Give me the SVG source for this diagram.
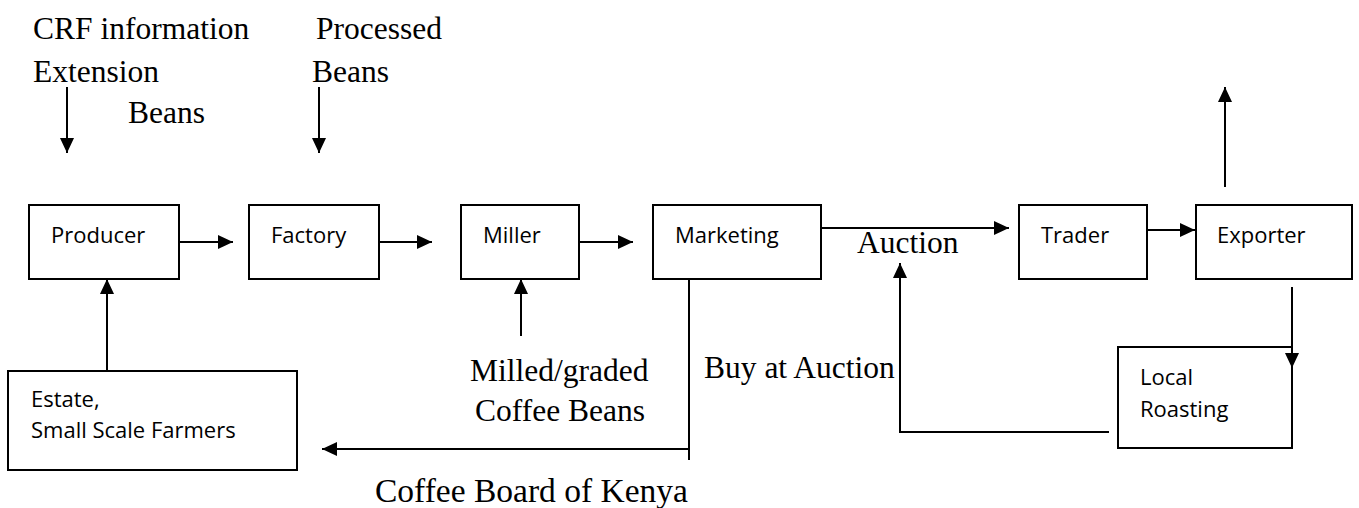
<svg xmlns="http://www.w3.org/2000/svg" width="1359" height="508" viewBox="0 0 1359 508">
<style>
.box{fill:#fff;stroke:#000;stroke-width:2}
.ln{fill:none;stroke:#000;stroke-width:2}
.arr{marker-end:url(#ah)}
.s{font-family:"Open Sans","Liberation Sans",sans-serif;font-size:22px;fill:#000}
.t{font-family:"Liberation Serif","Times New Roman",serif;font-size:31.5px;fill:#000}
</style>
<defs>
<marker id="ah" markerUnits="userSpaceOnUse" markerWidth="15" markerHeight="14" refX="15" refY="7" orient="auto">
<path d="M0,0 L15,7 L0,14 Z" fill="#000"/>
</marker>
</defs>
<rect width="1359" height="508" fill="#fff"/>
<g id="labels">
<text class="t" x="33" y="39">CRF information</text>
<text class="t" x="33" y="82">Extension</text>
<text class="t" x="128" y="123">Beans</text>
<text class="t" x="316" y="39">Processed</text>
<text class="t" x="312" y="82">Beans</text>
<text class="t" x="857" y="253">Auction</text>
<text class="t" x="470" y="381">Milled/graded</text>
<text class="t" x="475" y="421">Coffee Beans</text>
<text class="t" x="704" y="378">Buy at Auction</text>
<text class="t" x="375" y="502" style="font-size:33.5px">Coffee Board of Kenya</text>
</g>
<g id="producer"><rect class="box" x="29" y="205" width="150" height="74"/><text class="s" x="51" y="243">Producer</text></g>
<g id="factory"><rect class="box" x="249" y="205" width="130" height="74"/><text class="s" x="271" y="243">Factory</text></g>
<g id="miller"><rect class="box" x="461" y="205" width="118" height="74"/><text class="s" x="483" y="243">Miller</text></g>
<g id="marketing"><rect class="box" x="653" y="205" width="168" height="74"/><text class="s" x="675" y="243">Marketing</text></g>
<g id="trader"><rect class="box" x="1019" y="205" width="128" height="74"/><text class="s" x="1041" y="243">Trader</text></g>
<g id="exporter"><rect class="box" x="1196" y="205" width="156" height="74"/><text class="s" x="1217" y="243">Exporter</text></g>
<g id="estate"><rect class="box" x="8" y="371" width="289" height="99"/><text class="s" x="31" y="407">Estate,</text><text class="s" x="31" y="438">Small Scale Farmers</text></g>
<g id="roasting"><rect class="box" x="1118" y="347" width="174" height="101"/><text class="s" x="1140" y="385">Local</text><text class="s" x="1140" y="417">Roasting</text></g>
<g id="connectors">
<line class="ln arr" x1="67" y1="87" x2="67" y2="153"/>
<line class="ln arr" x1="319" y1="87" x2="319" y2="153"/>
<line class="ln arr" x1="180" y1="242" x2="233" y2="242"/>
<line class="ln arr" x1="380" y1="242" x2="432" y2="242"/>
<line class="ln arr" x1="580" y1="242" x2="633" y2="242"/>
<line class="ln arr" x1="821" y1="228" x2="1009" y2="228"/>
<line class="ln arr" x1="1147" y1="230" x2="1195" y2="230"/>
<line class="ln arr" x1="1225" y1="187" x2="1225" y2="87"/>
<line class="ln arr" x1="107" y1="371" x2="107" y2="279"/>
<line class="ln arr" x1="521" y1="336" x2="521" y2="279"/>
<line class="ln" x1="689" y1="279" x2="689" y2="460"/>
<line class="ln arr" x1="689" y1="449" x2="322" y2="449"/>
<polyline class="ln arr" points="1109,432 900,432 900,263"/>
<line class="ln arr" x1="1292" y1="287" x2="1292" y2="368"/>
</g>
</svg>
